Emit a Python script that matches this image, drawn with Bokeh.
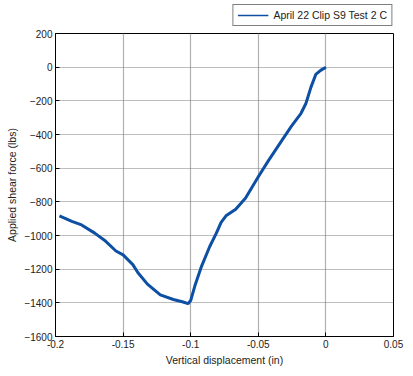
from bokeh.plotting import figure
from bokeh.models import (Range1d, FixedTicker, CustomJSTickFormatter,
                          Legend, LegendItem)
from bokeh.layouts import column
from bokeh.embed import file_html
from bokeh.resources import INLINE

# data
disp = [-0.1971, -0.1879, -0.1807, -0.1710, -0.1638, -0.1553, -0.1500, -0.1428,
        -0.1390, -0.1320, -0.1225, -0.1128, -0.1056, -0.1020, -0.1000, -0.0969,
        -0.0920, -0.0860, -0.0812, -0.0775, -0.0739, -0.0667, -0.0594, -0.0500,
        -0.0425, -0.0329, -0.0256, -0.0184, -0.0148, -0.0111, -0.0075, -0.0039, 0.0]
force = [-883, -916, -937, -986, -1028, -1092, -1115, -1173,
         -1221, -1289, -1353, -1380, -1395, -1405, -1386, -1299,
         -1183, -1067, -989, -922, -883, -844, -777, -651,
         -555, -439, -352, -274, -216, -120, -43, -19, 0]
x_ticks = [-0.2, -0.15, -0.1, -0.05, 0, 0.05]
y_ticks = [-1600, -1400, -1200, -1000, -800, -600, -400, -200, 0, 200]
series_name = "April 22 Clip S9 Test 2 C"

FONT = "Liberation Sans"
BLUE = "#0d4fa3"

# ---- main plot ----
p = figure(width=405, height=341, output_backend="svg",
           toolbar_location=None, x_range=Range1d(-0.2, 0.05),
           y_range=Range1d(-1600, 200), min_border_left=55, min_border_top=6,
           min_border_right=12, min_border_bottom=30)
p.background_fill_color = "white"
p.border_fill_color = "white"
p.outline_line_color = "black"
p.outline_line_width = 1

p.line(disp, force, line_color=BLUE, line_width=3)

fmt = CustomJSTickFormatter(code="var v = Math.round(tick*100)/100; return String(v === 0 ? 0 : v);")
p.xaxis.ticker = FixedTicker(ticks=x_ticks)
p.xaxis.formatter = fmt
p.yaxis.ticker = FixedTicker(ticks=y_ticks)

for ax in [p.xaxis[0], p.yaxis[0]]:
    ax.major_tick_in = 4
    ax.major_tick_out = 0
    ax.minor_tick_line_color = None
    ax.axis_line_color = "black"
    ax.major_label_text_font = FONT
    ax.major_label_text_font_size = "10px"
    ax.major_label_text_color = "#222222"
    ax.axis_label_text_font = FONT
    ax.axis_label_text_font_size = "10.5px"
    ax.axis_label_text_font_style = "normal"
    ax.axis_label_text_color = "#222222"
    ax.major_label_standoff = 3
    ax.axis_label_standoff = 3

p.xaxis.axis_label = "Vertical displacement (in)"
p.yaxis.axis_label = "Applied shear force (lbs)"

p.xgrid.grid_line_color = "#b0b0b0"
p.xgrid.grid_line_width = 1.2
p.ygrid.grid_line_color = "#7a7a7a"
p.ygrid.grid_line_dash = "1 1"
p.ygrid.grid_line_width = 1

# ---- legend strip above the plot (series line lies outside this strip's ranges) ----
lg = figure(width=405, height=27, output_backend="svg", toolbar_location=None,
            x_range=Range1d(0, 1), y_range=Range1d(0, 1),
            x_axis_type=None, y_axis_type=None,
            min_border_left=0, min_border_right=0, min_border_top=0, min_border_bottom=0)
lg.outline_line_color = None
lg.grid.visible = False
lr = lg.line(disp, force, line_color=BLUE, line_width=1.5)
legend = Legend(items=[LegendItem(label=series_name, renderers=[lr])],
                location="bottom_right", orientation="vertical",
                label_text_font=FONT, label_text_font_size="10.5px",
                label_text_color="#222222",
                border_line_color="black", border_line_width=1.2,
                glyph_width=31, glyph_height=12, label_height=12,
                padding=4, spacing=0, label_standoff=5, margin=1,
                background_fill_alpha=1)
lg.add_layout(legend, "center")

layout = column(lg, p, spacing=0)
open("out.html", "w").write(file_html(layout, INLINE))
